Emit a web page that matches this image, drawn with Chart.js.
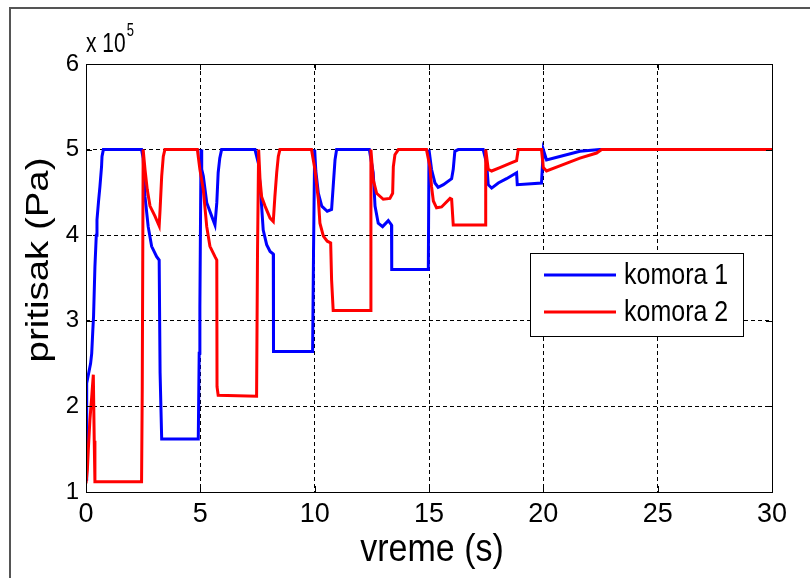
<!DOCTYPE html>
<html>
<head>
<meta charset="utf-8">
<title>pritisak - komora 1 / komora 2</title>
<script src="https://cdn.jsdelivr.net/npm/chart.js@4/dist/chart.umd.min.js"></script>
<style>
	body { margin: 0; background: #fff; }
	canvas { display: block; }
</style>
</head>
<body>
<canvas id="pritisakChart" width="810" height="578"></canvas>
<script>
// vreme u sekundama, pritisak u jedinicama od 10^5 Pa
const vreme1 = [0, 0.02, 0.04, 0.2, 0.25, 0.3, 0.33, 0.39, 0.45, 0.48, 0.55, 0.61, 0.68, 0.7, 0.76,
	2.43, 2.5, 2.58, 2.72, 2.87, 3.09, 3.2, 3.24, 3.31, 4.91, 4.95, 4.98, 5.03, 5.06, 5.13, 5.28, 5.5,
	5.64, 5.72, 5.78, 5.85, 5.93, 7.39, 7.54, 7.68, 7.75, 7.9, 8.05, 8.19, 8.2, 9.91, 9.95, 10.0, 10.05,
	10.16, 10.31, 10.55, 10.74, 10.81, 10.89, 10.96, 12.39, 12.56, 12.64, 12.78, 12.97, 13.22, 13.36,
	13.37, 14.97, 15.0, 15.11, 15.26, 15.4, 15.63, 15.99, 16.06, 16.13, 16.28, 17.37, 17.52, 17.59,
	17.74, 18.03, 18.39, 18.83, 18.86, 19.92, 20.0, 20.14, 20.72, 21.6, 22.47, 30];
const pritisak1 = [1.15, 1.9, 2.27, 2.5, 2.62, 2.9, 3.05, 3.63, 4.0, 4.18, 4.4, 4.57, 4.8, 4.92, 5.0,
	5.0, 4.9, 4.45, 4.1, 3.87, 3.75, 3.71, 2.39, 1.62, 1.62, 2.62, 3.17, 5.0, 4.77, 4.69, 4.38, 4.22,
	4.12, 4.38, 4.73, 4.9, 5.0, 5.0, 4.84, 4.34, 4.06, 3.89, 3.81, 3.78, 2.64, 2.64, 3.8, 5.0, 4.75,
	4.49, 4.34, 4.28, 4.3, 4.57, 4.88, 5.0, 5.0, 4.73, 4.34, 4.14, 4.1, 4.17, 4.12,
	3.6, 3.6, 5.0, 4.77, 4.61, 4.56, 4.59, 4.66, 4.77, 4.98, 5.0, 5.0, 4.84, 4.59,
	4.55, 4.61, 4.66, 4.73, 4.59, 4.61, 5.0, 4.88, 4.92, 4.98, 5.0, 5.0];

const vreme2 = [0, 0.06, 0.1, 0.17, 0.25, 0.32, 0.36, 0.39, 2.43, 2.46, 2.5, 2.58, 2.68, 2.8, 3.02,
	3.2, 3.24, 3.31, 3.38, 3.45, 4.87, 4.98, 5.13, 5.28, 5.42, 5.64, 5.72, 5.73, 5.78, 7.46, 7.5, 7.55,
	7.61, 7.68, 7.83, 8.05, 8.19, 8.26, 8.34, 8.41, 8.48, 9.86, 10.01, 10.16, 10.23, 10.38, 10.55, 10.7,
	10.74, 10.81, 12.42, 12.46, 12.56, 12.71, 13.0, 13.29, 13.41, 13.44, 13.51, 13.66, 14.89, 15.04,
	15.11, 15.19, 15.33, 15.55, 15.92, 15.99, 16.06, 17.45, 17.48, 17.59, 17.74, 18.1, 18.54, 18.83,
	18.9, 19.92, 20.0, 20.14, 20.72, 21.6, 22.33, 22.55, 30];
const pritisak2 = [1.1, 1.26, 1.49, 1.84, 2.11, 2.37, 1.6, 1.12, 1.12, 2.2, 5.0, 4.77, 4.53, 4.34, 4.22,
	4.11, 4.3, 4.69, 4.92, 5.0, 5.0, 4.77, 4.53, 4.1, 3.87, 3.75, 3.71, 2.23, 2.13, 2.12, 3.79, 5.0,
	4.65, 4.45, 4.34, 4.2, 4.16, 4.45, 4.73, 4.92, 5.0, 5.0, 4.77, 4.42, 4.14, 3.99, 3.93, 3.91,
	3.48, 3.12, 3.12, 5.0, 4.65, 4.49, 4.42, 4.43, 4.49, 4.8, 4.94, 5.0, 5.0, 4.8,
	4.57, 4.4, 4.32, 4.33, 4.43, 4.42, 4.12, 4.12, 5.0, 4.77, 4.75, 4.79, 4.84, 4.87,
	5.0, 5.0, 4.79, 4.75, 4.81, 4.9, 4.96, 5.0, 5.0];

const xTicks = [0, 5, 10, 15, 20, 25, 30];
const yTicks = [1, 2, 3, 4, 5, 6];
const seriesNames = ['komora 1', 'komora 2'];
const seriesColors = ['#0000ff', '#ff0000'];

const FONT = '"Liberation Sans", Arial, sans-serif';

const toPoints = (xs, ys) => xs.map((x, i) => ({x: x, y: ys[i]}));

// box, matlab ticks, axis labels, exponent and legend
const matlabFrame = {
	id: 'matlabFrame',
	afterDraw(chart) {
		const ctx = chart.ctx;
		const a = chart.chartArea;
		const xs = chart.scales.x;
		const ys = chart.scales.y;
		ctx.save();

		// outer figure edge (top and left only)
		ctx.strokeStyle = '#555';
		ctx.lineWidth = 2;
		ctx.beginPath();
		ctx.moveTo(10, 578);
		ctx.lineTo(10, 8);
		ctx.lineTo(810, 8);
		ctx.stroke();

		// axes box
		ctx.strokeStyle = '#000';
		ctx.lineWidth = 1;
		ctx.strokeRect(Math.round(a.left) + 0.5, Math.round(a.top) + 0.5,
			Math.round(a.right - a.left), Math.round(a.bottom - a.top));

		// inner ticks
		ctx.beginPath();
		xTicks.forEach(v => {
			const px = Math.round(xs.getPixelForValue(v)) + 0.5;
			ctx.moveTo(px, a.bottom); ctx.lineTo(px, a.bottom - 6);
			ctx.moveTo(px, a.top); ctx.lineTo(px, a.top + 6);
		});
		yTicks.forEach(v => {
			const py = Math.round(ys.getPixelForValue(v)) + 0.5;
			ctx.moveTo(a.left, py); ctx.lineTo(a.left + 6, py);
			ctx.moveTo(a.right, py); ctx.lineTo(a.right - 6, py);
		});
		ctx.stroke();

		ctx.fillStyle = '#000';

		// x 10^5 (stretched like the original export)
		ctx.save();
		ctx.translate(a.left, 52);
		ctx.scale(1, 1.35);
		ctx.textAlign = 'left';
		ctx.textBaseline = 'alphabetic';
		ctx.font = '21px ' + FONT;
		ctx.fillText('x 10', 0, 0);
		const w = ctx.measureText('x 10').width;
		ctx.font = '13px ' + FONT;
		ctx.fillText('5', w + 1, -12);
		ctx.restore();

		// x axis title
		ctx.save();
		ctx.translate(432, 550);
		ctx.scale(1, 1.12);
		ctx.font = '34px ' + FONT;
		ctx.textAlign = 'center';
		ctx.textBaseline = 'middle';
		ctx.fillText('vreme (s)', 0, 0);
		ctx.restore();

		// y axis title
		ctx.save();
		ctx.translate(39, 260);
		ctx.rotate(-Math.PI / 2);
		ctx.scale(1.2, 1);
		ctx.font = '32px ' + FONT;
		ctx.textAlign = 'center';
		ctx.textBaseline = 'middle';
		ctx.fillText('pritisak (Pa)', 0, 0);
		ctx.restore();

		// legend
		ctx.fillStyle = '#fff';
		ctx.fillRect(530.5, 253.5, 213, 83);
		ctx.strokeStyle = '#000';
		ctx.lineWidth = 1;
		ctx.strokeRect(530.5, 253.5, 213, 83);
		chart.data.datasets.forEach((ds, i) => {
			const ly = 275 + i * 37;
			ctx.strokeStyle = ds.borderColor;
			ctx.lineWidth = 3;
			ctx.beginPath();
			ctx.moveTo(544, ly);
			ctx.lineTo(616, ly);
			ctx.stroke();
			ctx.save();
			ctx.translate(624, ly + 1);
			ctx.scale(1, 1.15);
			ctx.fillStyle = '#000';
			ctx.font = '25px ' + FONT;
			ctx.textAlign = 'left';
			ctx.textBaseline = 'middle';
			ctx.fillText(ds.label, 0, 0);
			ctx.restore();
		});

		ctx.restore();
	}
};

new Chart(document.getElementById('pritisakChart'), {
	type: 'line',
	data: {
		datasets: [
			{
				label: seriesNames[0],
				data: toPoints(vreme1, pritisak1),
				borderColor: seriesColors[0],
				borderWidth: 3,
				pointRadius: 0,
				tension: 0,
				order: 1
			},
			{
				label: seriesNames[1],
				data: toPoints(vreme2, pritisak2),
				borderColor: seriesColors[1],
				borderWidth: 3,
				pointRadius: 0,
				tension: 0,
				order: 0
			}
		]
	},
	options: {
		responsive: false,
		animation: false,
		devicePixelRatio: 1,
		layout: {
			padding: {left: 0, right: 38, top: 64, bottom: 0}
		},
		plugins: {
			legend: {display: false},
			tooltip: {enabled: false}
		},
		scales: {
			x: {
				type: 'linear',
				min: 0,
				max: 30,
				afterBuildTicks: s => { s.ticks = xTicks.map(v => ({value: v})); },
				afterFit: s => { s.height = 86; },
				ticks: {
					color: '#000',
					font: {family: FONT, size: 27},
					padding: 6,
					maxRotation: 0
				},
				grid: {color: '#000', lineWidth: 1, drawTicks: false},
				border: {display: false, dash: [4, 3]}
			},
			y: {
				type: 'linear',
				min: 1,
				max: 6,
				afterBuildTicks: s => { s.ticks = yTicks.map(v => ({value: v})); },
				afterFit: s => { s.width = 86; },
				ticks: {
					color: '#000',
					font: {family: FONT, size: 24},
					padding: 7
				},
				grid: {color: '#000', lineWidth: 1, drawTicks: false},
				border: {display: false, dash: [4, 3]}
			}
		}
	},
	plugins: [matlabFrame]
});
</script>
</body>
</html>
